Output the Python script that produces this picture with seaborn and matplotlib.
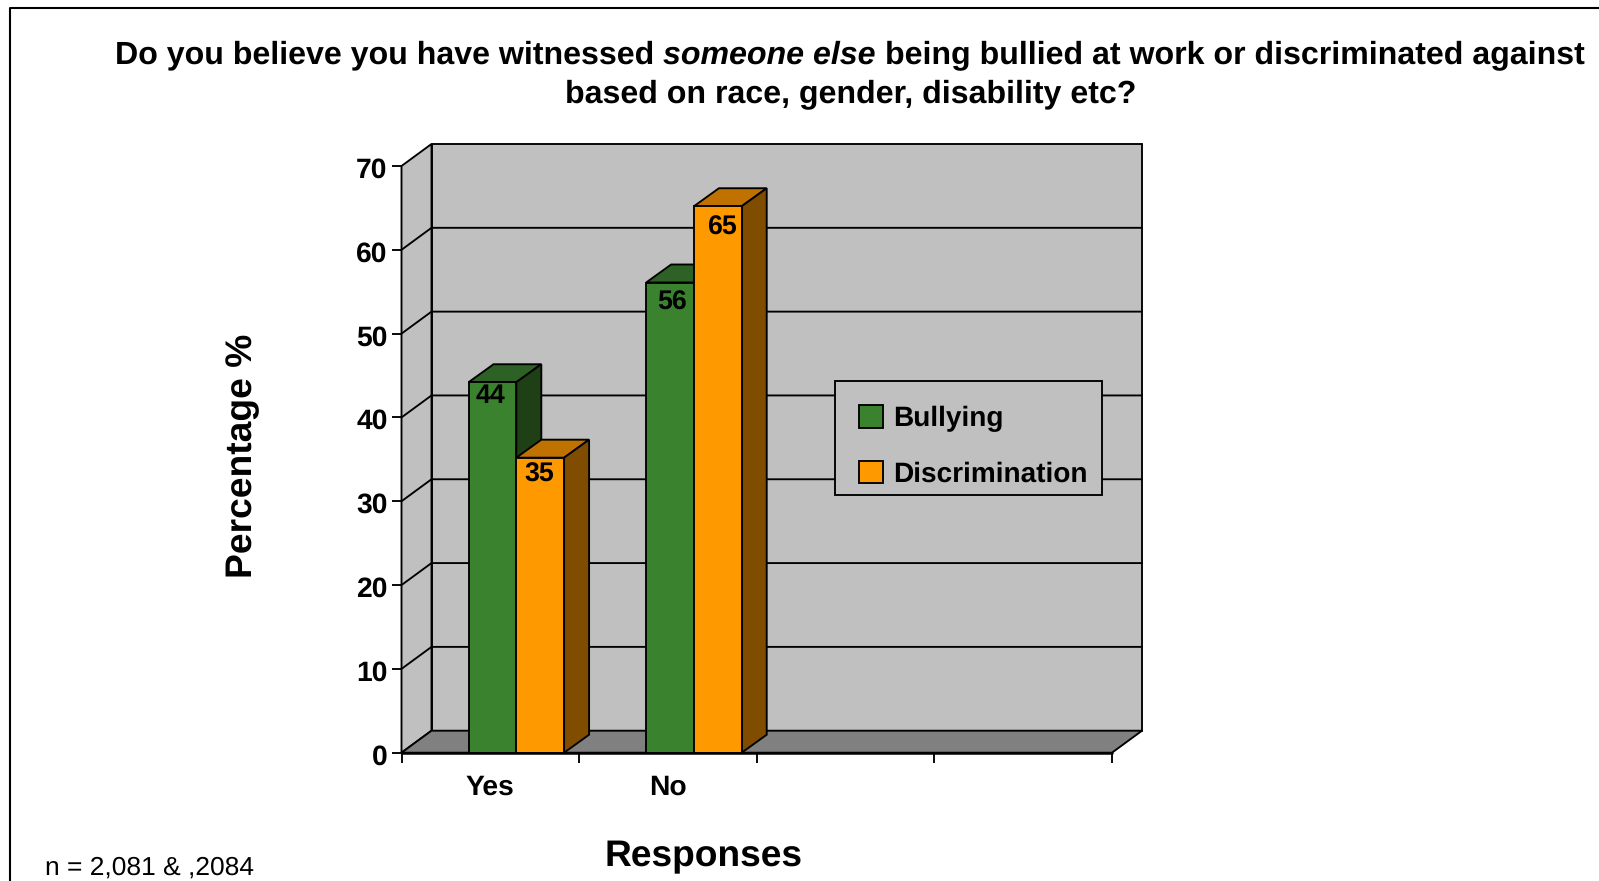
import matplotlib
matplotlib.use("Agg")
import matplotlib.pyplot as plt
import pandas as pd
import seaborn as sns
from matplotlib.lines import Line2D
from matplotlib.patches import Patch, Polygon, Rectangle
from matplotlib.transforms import ScaledTranslation

CATEGORIES = ["Yes", "No", " ", "  "]
SERIES = ["Bullying", "Discrimination"]
BULLYING = [44.2, 56.1]
DISCRIMINATION = [35.2, 65.2]
Y_TICKS = [0, 10, 20, 30, 40, 50, 60, 70]

GREEN = ("#3B822E", "#2D6125", "#1F3F17")
ORANGE = ("#FF9900", "#BF7200", "#7F4C00")
WALL = "#C0C0C0"
FLOOR = "#808080"

W, H = 1599, 881
FRONT_LEFT, FRONT_RIGHT = 401.5, 1112.0
FRONT_TOP, FRONT_BOTTOM = 166.0, 752.7
EDGE = 1.35

sns.set_theme(style="ticks")
plt.rcParams["font.family"] = ["Liberation Sans", "DejaVu Sans"]
plt.rcParams["text.hinting"] = "none"
plt.rcParams["text.color"] = "black"

fig = plt.figure(figsize=(W / 100, H / 100), dpi=100, facecolor="white")
ax = fig.add_axes([
    FRONT_LEFT / W,
    1 - FRONT_BOTTOM / H,
    (FRONT_RIGHT - FRONT_LEFT) / W,
    (FRONT_BOTTOM - FRONT_TOP) / H,
])

df = pd.DataFrame({
    "response": CATEGORIES[:2] * 2,
    "series": [SERIES[0]] * 2 + [SERIES[1]] * 2,
    "value": BULLYING + DISCRIMINATION,
})
sns.barplot(
    data=df, x="response", y="value", hue="series", order=CATEGORIES,
    hue_order=SERIES, palette=[GREEN[0], ORANGE[0]], width=0.538, gap=0,
    edgecolor="black", linewidth=EDGE, saturation=1, legend=False, ax=ax,
)
ax.set_xlim(-0.5, 3.5)
ax.set_ylim(0, 70)
ax.set_facecolor("none")
for side in ax.spines.values():
    side.set_visible(False)

# pixel sizes of the fake 3d depth, turned into data units
px_x = (FRONT_RIGHT - FRONT_LEFT) / 4
px_y = (FRONT_BOTTOM - FRONT_TOP) / 70
wall_dx, wall_dy = 30 / px_x, 22 / px_y
bar_dx, bar_dy = 25 / px_x, 18 / px_y
bar_shift = 26 / px_x


def face(points, color, zorder):
    ax.add_patch(Polygon(points, closed=True, facecolor=color, edgecolor="black",
                         linewidth=EDGE, zorder=zorder, clip_on=False))


x0, x1 = ax.get_xlim()
face([(x0 + wall_dx, wall_dy), (x1 + wall_dx, wall_dy),
      (x1 + wall_dx, 70 + wall_dy), (x0 + wall_dx, 70 + wall_dy)], WALL, 1)
face([(x0, 0), (x0 + wall_dx, wall_dy), (x0 + wall_dx, 70 + wall_dy), (x0, 70)], WALL, 1)
face([(x0, 0), (x1, 0), (x1 + wall_dx, wall_dy), (x0 + wall_dx, wall_dy)], FLOOR, 1)

for tick in Y_TICKS[1:-1]:
    ax.plot([x0, x0 + wall_dx, x1 + wall_dx], [tick, tick + wall_dy, tick + wall_dy],
            color="black", lw=EDGE, zorder=2, clip_on=False)

# side and top faces come from the bars seaborn drew
label_drop = [[14, 20], [17, 22]]
label_nudge = [[-2, 2], [-1, 4]]
for s, (container, shades) in enumerate(zip(ax.containers, (GREEN, ORANGE))):
    base_z = 3 + s * 3
    n = 0
    for bar in container:
        height = bar.get_height()
        if not height == height or height == 0:
            continue
        bar.set_x(bar.get_x() + bar_shift)
        bar.set_zorder(base_z + 2)
        left, right = bar.get_x(), bar.get_x() + bar.get_width()
        face([(left, height), (right, height), (right + bar_dx, height + bar_dy),
              (left + bar_dx, height + bar_dy)], shades[1], base_z)
        face([(right, 0), (right + bar_dx, bar_dy), (right + bar_dx, height + bar_dy),
              (right, height)], shades[2], base_z + 1)
        ax.text((left + right) / 2 + label_nudge[s][n] / px_x, height - label_drop[s][n] / px_y,
                f"{height:.0f}", ha="center", va="center", fontsize=19.3, fontweight="bold",
                color="black", zorder=20)
        n += 1

ax.set_yticks(Y_TICKS)
ax.set_xticks([0, 1], CATEGORIES[:2])
ax.set_xticks([-0.5, 0.5, 1.5, 2.5, 3.5], minor=True)
ax.tick_params(axis="y", length=7, width=EDGE, pad=3, labelsize=20.3, labelcolor="black", color="black")
ax.tick_params(axis="x", which="major", length=0, pad=15.5, labelsize=20.3, labelcolor="black")
ax.tick_params(axis="x", which="minor", length=7, width=EDGE, color="black")
tick_down = ScaledTranslation(0, -1.5 / 100, fig.dpi_scale_trans)
for lab in ax.get_yticklabels():
    lab.set_fontweight("bold")
    lab.set_transform(lab.get_transform() + tick_down)
for lab in ax.get_xticklabels():
    lab.set_fontweight("bold")
ax.plot([x0, x1], [0, 0], color="black", lw=1.8, zorder=30, clip_on=False)
ax.set_xlabel("")
ax.set_ylabel("")

# legend rows sit low in their box, so the box is its own rectangle
ax.add_patch(Rectangle((835 / W, 1 - 494.5 / H), 266.5 / W, 114 / H, transform=fig.transFigure,
                       facecolor=WALL, edgecolor="black", linewidth=EDGE, zorder=24, clip_on=False))
handles = [Patch(facecolor=GREEN[0], edgecolor="black", linewidth=EDGE, label=SERIES[0]),
           Patch(facecolor=ORANGE[0], edgecolor="black", linewidth=EDGE, label=SERIES[1])]
leg = ax.legend(
    handles=handles, loc="center left", bbox_to_anchor=(859 / W, 1 - 446.5 / H),
    bbox_transform=fig.transFigure, prop={"weight": "bold", "size": 20.2},
    frameon=False, handlelength=0.85, handleheight=0.85, handletextpad=0.38,
    labelspacing=1.03, borderpad=0, borderaxespad=0,
)
leg.set_zorder(25)

# title is three pieces because the middle words are italic
renderer = fig.canvas.get_renderer()
TITLE_SIZE = 23.1
space = 0.278 * TITLE_SIZE * 100 / 72
parts = [("Do you believe you have witnessed", "normal"),
         ("someone else", "italic"),
         ("being bullied at work or discriminated against", "normal")]
pieces = [fig.text(0, 1 - 63.5 / H, txt, fontsize=TITLE_SIZE, fontweight="bold",
                   fontstyle=st, ha="left", va="baseline", color="black") for txt, st in parts]
widths = [p.get_window_extent(renderer).width for p in pieces]
pos = 850 - (sum(widths) + 2 * space) / 2
for p, w in zip(pieces, widths):
    p.set_x(pos / W)
    pos += w + space
fig.text(851 / W, 1 - 102.5 / H, "based on race, gender, disability etc?", fontsize=TITLE_SIZE,
         fontweight="bold", ha="center", va="baseline", color="black")

fig.text(243 / W, 1 - 456 / H, "Percentage %", rotation=90, fontsize=26.8, fontweight="bold",
         ha="center", va="center", color="black")
fig.text(703.5 / W, 1 - 857 / H, "Responses", fontsize=26.7, fontweight="bold",
         ha="center", va="center", color="black")
fig.text(45 / W, 1 - 868 / H, "n = 2,081 & ,2084", fontsize=19, ha="left", va="center", color="black")

# outer frame, cut by the image on the right and bottom
fig.add_artist(Line2D([10 / W, 10 / W, 1], [0, 1 - 8 / H, 1 - 8 / H], color="black", lw=1.5))

fig.savefig("out.png", dpi=100)
